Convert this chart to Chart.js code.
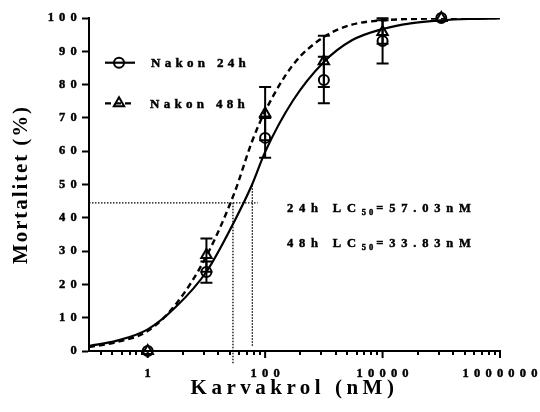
<!DOCTYPE html>
<html><head><meta charset="utf-8">
<script src="https://cdn.jsdelivr.net/npm/chart.js@4.4.1/dist/chart.umd.min.js"></script>
<style>html,body{margin:0;padding:0;background:#fff;}canvas{display:block;}</style>
</head><body>
<canvas id="c" width="540" height="412"></canvas>
<script>
// ---- data ----
const doseX = [1, 10, 100, 1000, 10000, 100000];
const mean24 = [0, 23.7, 64.0, 81.4, 93.1, 100];
const sd24 = [0, 3.2, 6.0, 7.0, 6.8, 0];
const mean48 = [0, 28.8, 71.3, 87.0, 95.8, 100];
const sd48 = [0, 5.0, 8.0, 7.7, 3.5, 0];

const fitX = [0.1, 0.3, 1, 3, 10, 30, 60, 100, 300, 1000, 3000, 10000, 30000, 100000, 300000, 1000000];
const fit24 = [1.5, 3.1, 6.5, 13.2, 23.8, 39.0, 50.0, 59.8, 75.3, 86.8, 93.3, 96.7, 98.4, 99.3, 99.7, 99.85];
const fit48 = [1.2, 2.7, 6.0, 14.0, 28.5, 47.5, 63.0, 72.0, 86.0, 94.3, 98.0, 99.3, 99.7, 99.9, 100, 100];

const refLineH = [[0.1, 44.5], [74.5, 44.5]];
const refLine24 = [[60.5, 49.8], [60.5, 1.5]];
const refLine48 = [[28.3, 44.5], [28.3, -4]];

const xMajorTicks = [1, 100, 10000, 1000000];
const minorSquares = [4, 9, 16, 25, 36, 49, 64, 81];
const yTickValues = [0, 10, 20, 30, 40, 50, 60, 70, 80, 90, 100];

const seriesNames = ['Nakon 24h', 'Nakon 48h'];
const lc50Lines = [['24h LC', '50', '=57.03nM'], ['48h LC', '50', '=33.83nM']];
const xTitle = 'Karvakrol (nM)';
const yTitle = 'Mortalitet (%)';

// ---- chart ----
const FONT = "'Liberation Serif', 'Times New Roman', serif";
Chart.defaults.font.family = FONT;
Chart.defaults.font.weight = 'bold';
Chart.defaults.color = '#000';

const pts = (xs, ys) => xs.map((x, i) => ({x: x, y: ys[i]}));
const pairs = arr => arr.map(p => ({x: p[0], y: p[1]}));

function wrap(scale, fn, sp) {
  if (scale['_w_' + fn]) return;
  const orig = scale[fn];
  scale[fn] = function () {
    const c = this.ctx; const prev = c.letterSpacing;
    c.letterSpacing = sp; orig.apply(this, arguments); c.letterSpacing = prev || '0px';
  };
  scale['_w_' + fn] = true;
}

const spacingPlugin = {
  id: 'spacing',
  beforeDraw(chart) {
    wrap(chart.scales.x, 'drawLabels', '5.2px');
    wrap(chart.scales.x, 'drawTitle', '4.5px');
    wrap(chart.scales.y, 'drawLabels', '5.2px');
    wrap(chart.scales.y, 'drawTitle', '1.9px');
  }
};

const xTickPlugin = {
  id: 'xticks',
  afterDraw(chart) {
    const ctx = chart.ctx, xs = chart.scales.x, y0 = chart.chartArea.bottom;
    ctx.save();
    ctx.strokeStyle = '#000';
    ctx.lineWidth = 2;
    const minors = [];
    for (let k = -1; k < 3; k++) {
      const base = Math.pow(100, k);
      minorSquares.forEach(m => { const v = m * base; if (v > xs.min && v < xs.max) minors.push(v); });
    }
    ctx.beginPath();
    minors.forEach(v => { const px = Math.round(xs.getPixelForValue(v)); ctx.moveTo(px, y0); ctx.lineTo(px, y0 + 4); });
    ctx.stroke();
    ctx.beginPath();
    xMajorTicks.forEach(v => { const px = xs.getPixelForValue(v); ctx.moveTo(px, y0); ctx.lineTo(px, y0 + 7); });
    ctx.stroke();
    ctx.restore();
  }
};

const errorBarPlugin = {
  id: 'errbars',
  afterDatasetsDraw(chart) {
    const ctx = chart.ctx, xs = chart.scales.x, ys = chart.scales.y;
    ctx.save();
    ctx.strokeStyle = '#000';
    ctx.lineWidth = 2;
    [[mean24, sd24], [mean48, sd48]].forEach(([m, s]) => {
      doseX.forEach((x, i) => {
        if (!s[i]) return;
        const px = xs.getPixelForValue(x);
        const yt = ys.getPixelForValue(m[i] + s[i]);
        const yb = ys.getPixelForValue(m[i] - s[i]);
        ctx.beginPath();
        ctx.moveTo(px, yt); ctx.lineTo(px, yb);
        ctx.moveTo(px - 6, yt); ctx.lineTo(px + 6, yt);
        ctx.moveTo(px - 6, yb); ctx.lineTo(px + 6, yb);
        ctx.stroke();
      });
    });
    ctx.restore();
  }
};

function heavyText(ctx, s, x, y) {
  ctx.fillText(s, x, y);
  ctx.strokeText(s, x, y);
}

const textPlugin = {
  id: 'texts',
  afterDraw(chart) {
    const ctx = chart.ctx;
    ctx.save();
    ctx.fillStyle = '#000';
    ctx.strokeStyle = '#000';
    // legend
    const legY = [62.7, 103.3];
    const dsPts = [chart.data.datasets[5], chart.data.datasets[6]];
    legY.forEach((y, i) => {
      ctx.lineWidth = i === 0 ? 2.2 : 2.3;
      ctx.setLineDash(i === 0 ? [] : [6, 4]);
      ctx.beginPath(); ctx.moveTo(105, y); ctx.lineTo(135, y); ctx.stroke();
      ctx.setLineDash([]);
      ctx.lineWidth = 2;
      ctx.fillStyle = 'rgba(0,0,0,0)';
      Chart.helpers.drawPoint(ctx, {pointStyle: dsPts[i].pointStyle, radius: dsPts[i].pointRadius, rotation: 0, borderWidth: 2}, 119, y);
      ctx.fillStyle = '#000';
      ctx.font = 'bold 13px ' + FONT;
      ctx.letterSpacing = '4.3px';
      ctx.lineWidth = 0.45;
      ctx.textBaseline = 'alphabetic';
      ctx.textAlign = 'left';
      heavyText(ctx, seriesNames[i], 151 - i, y + 4.6);
    });
    // LC50 annotation
    const annY = [211.7, 247.3];
    ctx.lineWidth = 0.45;
    lc50Lines.forEach((parts, i) => {
      let x = 287;
      ctx.letterSpacing = '5.8px';
      ctx.font = 'bold 12.5px ' + FONT;
      heavyText(ctx, parts[0], x, annY[i]);
      x += ctx.measureText(parts[0]).width;
      ctx.font = 'bold 8.5px ' + FONT;
      ctx.letterSpacing = '3px';
      heavyText(ctx, parts[1], x, annY[i] + 3);
      x += ctx.measureText(parts[1]).width;
      ctx.font = 'bold 12.5px ' + FONT;
      ctx.letterSpacing = '5.8px';
      heavyText(ctx, parts[2], x, annY[i]);
    });
    ctx.restore();
  }
};

new Chart(document.getElementById('c'), {
  type: 'line',
  data: {
    datasets: [
      {label: 'fit 24h', data: pts(fitX, fit24), borderColor: '#000', borderWidth: 2.2, pointRadius: 0, cubicInterpolationMode: 'monotone', fill: false},
      {label: 'fit 48h', data: pts(fitX, fit48), borderColor: '#000', borderWidth: 2.4, borderDash: [6, 4], pointRadius: 0, cubicInterpolationMode: 'monotone', fill: false},
      {label: 'LC50 level', data: pairs(refLineH), borderColor: '#000', borderWidth: 1.3, borderDash: [1.5, 1.5], pointRadius: 0, clip: false},
      {label: 'LC50 24h', data: pairs(refLine24), borderColor: '#000', borderWidth: 1.3, borderDash: [1.5, 1.5], pointRadius: 0, clip: false},
      {label: 'LC50 48h', data: pairs(refLine48), borderColor: '#000', borderWidth: 1.3, borderDash: [1.5, 1.5], pointRadius: 0, clip: false},
      {label: seriesNames[0], data: pts(doseX, mean24), showLine: false, pointStyle: 'circle', pointRadius: 5, pointBorderWidth: 2, borderColor: '#000', pointBorderColor: '#000', pointBackgroundColor: 'rgba(0,0,0,0)', clip: false},
      {label: seriesNames[1], data: pts(doseX, mean48), showLine: false, pointStyle: 'triangle', pointRadius: 6, pointBorderWidth: 2, borderColor: '#000', pointBorderColor: '#000', pointBackgroundColor: 'rgba(0,0,0,0)', clip: false}
    ]
  },
  options: {
    responsive: false,
    animation: false,
    devicePixelRatio: 1,
    layout: {padding: {top: 18, right: 40, bottom: 0, left: 0}},
    plugins: {legend: {display: false}, tooltip: {enabled: false}},
    scales: {
      x: {
        type: 'logarithmic', min: 0.1, max: 1000000, position: 'bottom',
        afterBuildTicks: s => { s.ticks = xMajorTicks.map(v => ({value: v, major: true})); },
        afterFit: s => { s.height = 61; },
        ticks: {callback: v => String(v), font: {size: 12.5, weight: 'bold'}, padding: 8, maxRotation: 0, autoSkip: false, color: '#000', labelOffset: 2.6, textStrokeColor: '#000', textStrokeWidth: 0.45},
        grid: {display: true, drawOnChartArea: false, drawTicks: true, tickLength: 7, color: 'rgba(0,0,0,0)', tickColor: 'rgba(0,0,0,0)'},
        border: {display: true, color: '#000', width: 2},
        title: {display: true, text: xTitle, font: {size: 21, weight: 'bold'}, padding: {top: 0, bottom: 10.5}, color: '#000'}
      },
      y: {
        min: 0, max: 100,
        afterBuildTicks: s => { s.ticks = yTickValues.map(v => ({value: v})); },
        afterFit: s => { s.width = 89; },
        ticks: {font: {size: 12.5, weight: 'bold'}, padding: 0, color: '#000', textStrokeColor: '#000', textStrokeWidth: 0.45},
        grid: {drawOnChartArea: false, drawTicks: true, tickLength: 7, tickWidth: 2, tickColor: '#000', color: 'rgba(0,0,0,0)'},
        border: {display: true, color: '#000', width: 2},
        title: {display: true, text: yTitle, font: {size: 21, weight: 'bold'}, padding: {top: 8.7, bottom: 0}, color: '#000'}
      }
    }
  },
  plugins: [spacingPlugin, xTickPlugin, errorBarPlugin, textPlugin]
});
</script>
</body></html>
